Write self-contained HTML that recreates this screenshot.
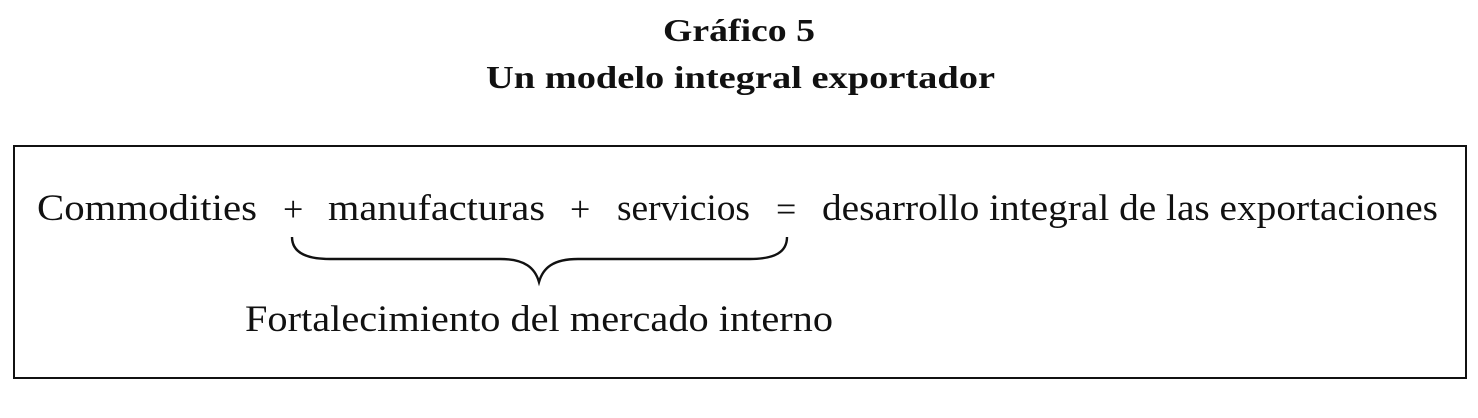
<!DOCTYPE html>
<html><head><meta charset="utf-8"><style>
html,body{margin:0;padding:0;background:#fff;}
svg{display:block}
text{font-family:"Liberation Serif",serif;fill:#111;}
</style></head><body>
<svg width="1478" height="418" viewBox="0 0 1478 418" xmlns="http://www.w3.org/2000/svg">
<rect width="1478" height="418" fill="#fff"/>
<text x="663" y="41" font-size="32" font-weight="bold" textLength="152" lengthAdjust="spacingAndGlyphs">Gráfico 5</text>
<text x="486" y="88" font-size="32" font-weight="bold" textLength="509" lengthAdjust="spacingAndGlyphs">Un modelo integral exportador</text>
<rect x="14" y="146" width="1452" height="232" fill="none" stroke="#111" stroke-width="2"/>
<g font-size="37">
<text x="37" y="220" textLength="220" lengthAdjust="spacingAndGlyphs">Commodities</text>
<text x="283" y="221" font-size="36">+</text>
<text x="328" y="220" textLength="217" lengthAdjust="spacingAndGlyphs">manufacturas</text>
<text x="570" y="221" font-size="36">+</text>
<text x="617" y="220" textLength="133" lengthAdjust="spacingAndGlyphs">servicios</text>
<text x="776" y="221" font-size="36">=</text>
<text x="822" y="220" textLength="616" lengthAdjust="spacingAndGlyphs">desarrollo integral de las exportaciones</text>
<text x="245" y="331" textLength="588" lengthAdjust="spacingAndGlyphs">Fortalecimiento del mercado interno</text>
</g>
<path d="M292 237 C292 252 305 259 330 259 L500 259 C525 259 535 268 539 282 C543 268 553 259 578 259 L750 259 C775 259 787 252 787 237" fill="none" stroke="#111" stroke-width="2.4"/>
</svg>
</body></html>
